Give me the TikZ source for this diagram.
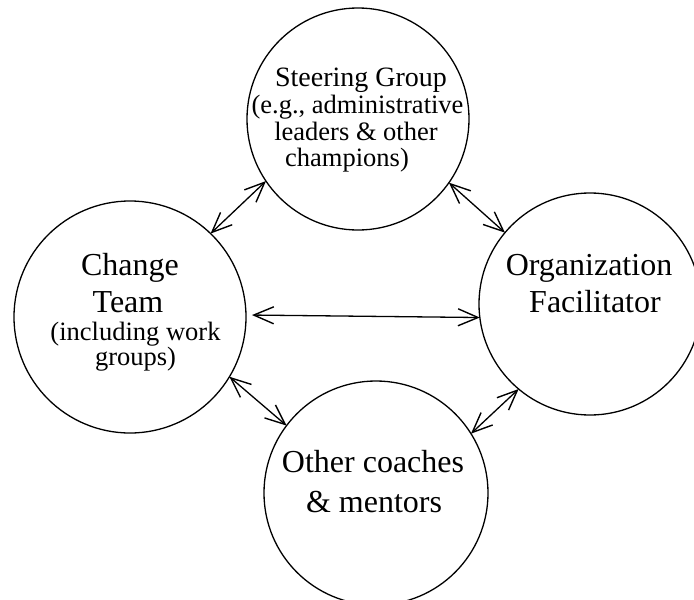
\documentclass[tikz,border=0pt]{standalone}
\usepackage{fontspec}
\setmainfont{Liberation Serif}
\usetikzlibrary{arrows.meta}
\begin{document}
\begin{tikzpicture}[x=1pt,y=-1pt,
  ring/.style={circle,draw,line width=1.3pt,inner sep=0pt,outer sep=0pt},
  link/.style={line width=1.3pt,{Straight Barb[length=20pt,width=17pt,line width=1.4pt]}-{Straight Barb[length=20pt,width=17pt,line width=1.4pt]}},
  bigtxt/.style={anchor=base,inner sep=0pt,font=\fontsize{32}{37}\selectfont},
  midtxt/.style={anchor=base,inner sep=0pt,font=\fontsize{28}{32}\selectfont},
  smalltxt/.style={anchor=base,inner sep=0pt,font=\fontsize{26.5}{30}\selectfont}]
\useasboundingbox (0,0) rectangle (694,600);
% circles
\node[ring,minimum size=222pt] (S) at (358,119) {};
\node[ring,minimum size=232pt] (C) at (130,317) {};
\node[ring,minimum size=222pt] (O) at (590,304) {};
\node[ring,minimum size=224pt] (M) at (376,493) {};
% texts
\node[midtxt] (s1) at (361,86) {Steering Group};
\node[smalltxt] (s2) at (357.5,113) {(e.g., administrative};
\node[smalltxt] (s3) at (356,140) {leaders \& other};
\node[smalltxt] (s4) at (347,166) {champions)};
\node[bigtxt] (c1) at (130,275) {Change};
\node[bigtxt] (c2) at (128,312) {Team};
\node[smalltxt] (c3) at (135.5,340) {(including work};
\node[smalltxt] (c4) at (135.5,365) {groups)};
\node[bigtxt] (o1) at (589,275) {Organization};
\node[bigtxt] (o2) at (595,312) {Facilitator};
\node[bigtxt] (m1) at (373,472) {Other coaches};
\node[bigtxt] (m2) at (374,512) {\& mentors};
% connectors
\draw[link] (C.46) -- (S.214);
\draw[link] (S.-35) -- (O.140);
\draw[link,shorten <=6pt] (C.1) -- (O.187);
\draw[link] (C.-31) -- (M.143);
\draw[link] (O.230) -- (M.32);
\end{tikzpicture}
\end{document}
